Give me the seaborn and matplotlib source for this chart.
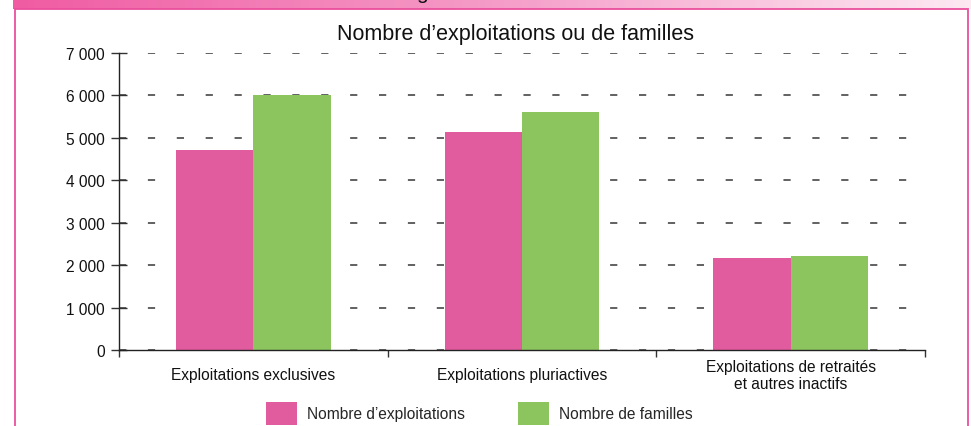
import matplotlib
matplotlib.use('Agg')
import matplotlib.pyplot as plt
import seaborn as sns
import pandas as pd
import numpy as np
from matplotlib.patches import Rectangle
from matplotlib.colors import LinearSegmentedColormap

categories = ['Exploitations exclusives', 'Exploitations pluriactives',
              'Exploitations de retraités\net autres inactifs']
series = ["Nombre d\u2019exploitations", 'Nombre de familles']
exploitations = [4720, 5140, 2170]
familles = [6010, 5610, 2220]
yticks = [0, 1000, 2000, 3000, 4000, 5000, 6000, 7000]
ytick_labels = ['0', '1 000', '2 000', '3 000', '4 000', '5 000', '6 000', '7 000']
colors = ['#E15B9F', '#8CC45E']

df = pd.DataFrame({
    'categorie': categories * 2,
    'serie': [series[0]] * 3 + [series[1]] * 3,
    'valeur': exploitations + familles,
})

sns.set_style('white')
plt.rcParams['font.family'] = ['Liberation Sans', 'DejaVu Sans']

W, H = 971, 427
fig = plt.figure(figsize=(W / 100, H / 100), dpi=100)

# pink gradient band at the top
band = fig.add_axes([13 / W, 1 - 10 / H, 1 - 13 / W, 10 / H])
grad = np.linspace(0, 1, 256).reshape(1, -1)
cm = LinearSegmentedColormap.from_list('band', ['#F05BA2', '#F59CC8', '#FDE9F2'])
band.imshow(grad, aspect='auto', cmap=cm, extent=[0, 1, 0, 1])
band.axis('off')

# heading that is cut off at the top edge in the original
fig.text(422 / W, 1 + 1.5 / H, 'g', fontsize=15, color='#111111', ha='center', va='baseline')

# pink frame
fig.patches.append(Rectangle((14.5 / W, -0.05), (968 - 14.5) / W, 1 - 10 / H + 0.05,
                             transform=fig.transFigure, fill=False,
                             edgecolor='#EA4F9C', linewidth=1.3, zorder=3))

ax = fig.add_axes([119 / W, 1 - 351 / H, (925 - 119) / W, (351 - 54) / H])
sns.barplot(data=df, x='categorie', y='valeur', hue='serie', palette=colors,
            width=0.575, saturation=1, linewidth=0, ax=ax, zorder=2)

ax.set_xlim(-0.5, 2.5)
ax.set_ylim(0, 7000)
ax.set_yticks(yticks)
ax.set_yticklabels(ytick_labels, fontsize=11.2, color='#111111')
ax.tick_params(axis='y', direction='inout', length=11, width=1, color='#333333', left=True, pad=4.5)
ax.tick_params(axis='x', which='major', length=0, labelsize=11.2, pad=18, labelcolor='#111111')
for lbl in ax.get_xticklabels():
    lbl.set_va('center')
    lbl.set_linespacing(1.2)
ax.set_xticks([-0.5, 0.5, 1.5, 2.5], minor=True)
ax.tick_params(axis='x', which='minor', direction='out', length=5, width=1, color='#333333', bottom=True)
ax.set_xlabel('')
ax.set_ylabel('')

ax.yaxis.grid(True, color='#555555', linewidth=1.3, linestyle=(0, (4, 12)))
ax.set_axisbelow(True)
for s in ['top', 'right']:
    ax.spines[s].set_visible(False)
for s in ['left', 'bottom']:
    ax.spines[s].set_color('#222222')
    ax.spines[s].set_linewidth(1)

ax.set_title("Nombre d\u2019exploitations ou de familles", fontsize=15.5, color='#111111',
             pad=10, x=(515 - 119) / 806)

handles, labels = ax.get_legend_handles_labels()
ax.get_legend().remove()
fig.legend(handles, labels, loc='upper center', bbox_to_anchor=(0.494, 1 - 403 / H),
           ncol=2, frameon=False, fontsize=11.2, handlelength=1.95, handleheight=1.9,
           handletextpad=0.7, columnspacing=3.4, borderpad=0, borderaxespad=0)

fig.savefig('out.png', dpi=100)
